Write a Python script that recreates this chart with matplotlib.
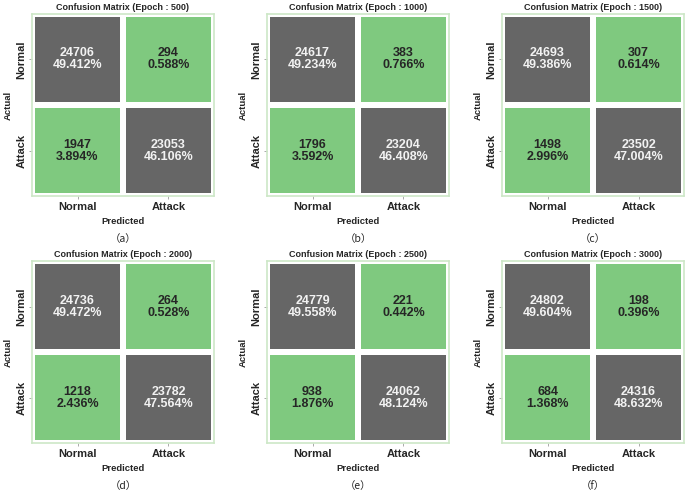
import numpy as np
import matplotlib
matplotlib.use('Agg')
import matplotlib.pyplot as plt
import seaborn as sns

plt.rcParams['font.family'] = ['Liberation Sans', 'DejaVu Sans']

epochs = [500, 1000, 1500, 2000, 2500, 3000]
panel_tags = ['a', 'b', 'c', 'd', 'e', 'f']
labels = ['Normal', 'Attack']
# rows = actual, cols = predicted
tn = [24706, 24617, 24693, 24736, 24779, 24802]
fp = [294, 383, 307, 264, 221, 198]
fn = [1947, 1796, 1498, 1218, 938, 684]
tp = [23053, 23204, 23502, 23782, 24062, 24316]

fig = plt.figure(figsize=(6.85, 4.9), dpi=100)

W, H = 685.0, 490.0
lefts = [32, 267, 502]
tops = [14, 261]
size = 182

for k in range(6):
    r, c = divmod(k, 3)
    ax = fig.add_axes([lefts[c] / W, (H - tops[r] - size) / H, size / W, size / H])
    cm = np.array([[tn[k], fp[k]], [fn[k], tp[k]]])
    total = cm.sum()
    annot = np.array([[f"{v}\n{v / total * 100:.3f}%" for v in row] for row in cm])
    sns.heatmap(cm, ax=ax, cmap='Accent', cbar=False, annot=annot, fmt='',
                linewidths=3, linecolor='white',
                annot_kws={'fontsize': 9, 'fontweight': 'bold', 'linespacing': 1.0},
                xticklabels=labels, yticklabels=labels)
    for t in ax.texts:
        if t.get_color() in ('w', 'white'):
            t.set_color('#f2f2f2')
        else:
            t.set_color('#262626')
    for s in ax.spines.values():
        s.set_visible(True)
        s.set_color('#cde7c7')
        s.set_linewidth(1.2)
    ax.set_title(f"Confusion Matrix (Epoch : {epochs[k]})", fontsize=6.5,
                 fontweight='bold', pad=3, color='#262626')
    ax.set_xlabel('Predicted', fontsize=6.8, fontweight='bold', color='#262626', labelpad=4)
    ax.set_ylabel('Actual', fontsize=6.8, fontweight='bold', color='#262626', labelpad=3)
    ax.tick_params(axis='both', labelsize=8, length=2, width=0.5, colors='#888888',
                   labelcolor='#262626', pad=2)
    ax.set_yticklabels(labels, rotation=90, va='center')
    for t in ax.get_xticklabels() + ax.get_yticklabels():
        t.set_fontweight('bold')
    ax.text(0.5, -0.235, f"（{panel_tags[k]}）", transform=ax.transAxes,
            ha='center', va='center', fontsize=7.5, color='#262626',
            family=['Noto Sans CJK SC', 'DejaVu Sans'])

fig.savefig('out.png', dpi=100)
